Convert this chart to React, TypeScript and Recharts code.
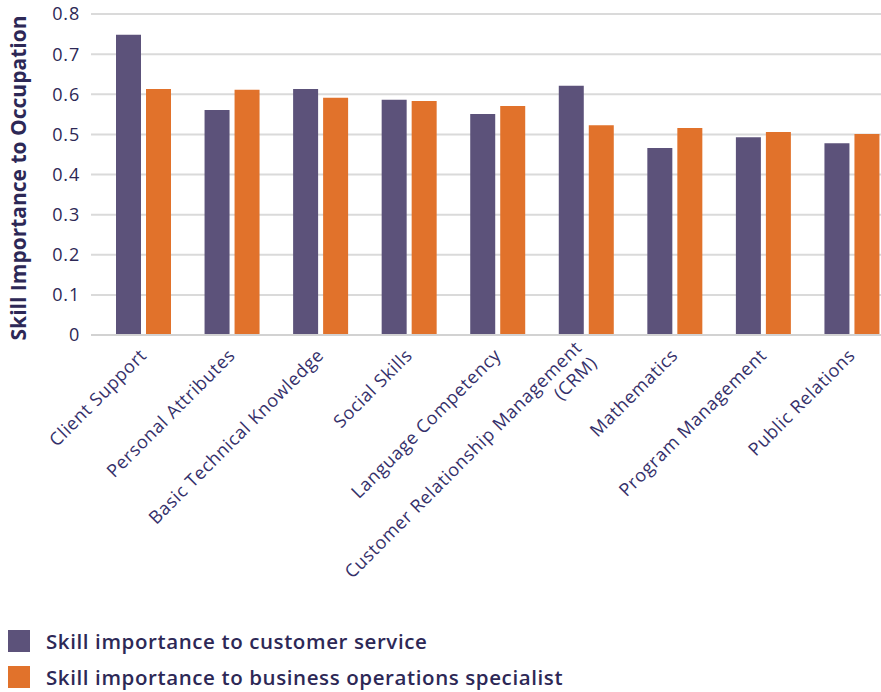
import React from "react";
import { BarChart, Bar, XAxis, YAxis, CartesianGrid, Legend } from "recharts";

const categories = [
  "Client Support",
  "Personal Attributes",
  "Basic Technical Knowledge",
  "Social Skills",
  "Language Competency",
  "Customer Relationship Management\n(CRM)",
  "Mathematics",
  "Program Management",
  "Public Relations",
];
const customerService = [0.748, 0.561, 0.613, 0.586, 0.551, 0.621, 0.466, 0.493, 0.478];
const businessOps = [0.613, 0.611, 0.591, 0.583, 0.571, 0.523, 0.516, 0.506, 0.501];
const yTicks = [0, 0.1, 0.2, 0.3, 0.4, 0.5, 0.6, 0.7, 0.8];
const seriesNames = [
  "Skill importance to customer service",
  "Skill importance to business operations specialist",
];

const PURPLE = "#5c527a";
const ORANGE = "#e1722b";
const TEXT = "#2d2856";
const FONT = "Open Sans";

const data = categories.map((c, i) => ({
  name: c,
  cs: customerService[i],
  bo: businessOps[i],
}));

const fmtY = (v: number) => (v === 0 ? "0" : v.toFixed(1));

const XTick = (props: any) => {
  const { x, y, payload } = props;
  const lines = String(payload.value).split("\n");
  const n = lines.length;
  return (
    <g transform={`translate(${x},${y})`}>
      <text
        textAnchor="end"
        transform="rotate(-45)"
        fill="#35306a"
        fontSize={18}
        letterSpacing={0.6}
        fontFamily={FONT}
      >
        {lines.map((l, i) => (
          <tspan key={i} x={0} dy={i === 0 ? `${0.35 - (n - 1) * 0.6}em` : "1.2em"}>
            {l}
          </tspan>
        ))}
      </text>
    </g>
  );
};

const YLabel = () => (
  <text
    x={18}
    y={178}
    transform="rotate(-90, 18, 178)"
    textAnchor="middle"
    dominantBaseline="central"
    fill={TEXT}
    fontSize={21}
    fontWeight={700}
    fontFamily={FONT}
  >
    Skill Importance to Occupation
  </text>
);

const LegendContent = () => (
  <div
    style={{
      fontFamily: FONT,
      fontWeight: 600,
      fontSize: 20.5,
      letterSpacing: 0.6,
      color: TEXT,
    }}
  >
    {seriesNames.map((n, i) => (
      <div key={n} style={{ display: "flex", alignItems: "center", height: 36 }}>
        <span
          style={{
            width: 22,
            height: 22,
            background: i === 0 ? PURPLE : ORANGE,
            display: "inline-block",
            marginRight: 16,
          }}
        />
        <span>{n}</span>
      </div>
    ))}
  </div>
);

export default function App() {
  return (
    <div
      style={{
        position: "absolute",
        left: 0,
        top: 0,
        width: 881,
        height: 692,
        overflow: "hidden",
        background: "#fff",
      }}
    >
      <BarChart
        width={900}
        height={692}
        data={data}
        margin={{ top: 14, right: 4, bottom: 107, left: 0 }}
        barSize={25}
        barGap={5}
      >
        <CartesianGrid vertical={false} stroke="#dadada" strokeWidth={2} />
        <XAxis
          dataKey="name"
          interval={0}
          height={250}
          tickSize={0}
          tickMargin={17}
          padding={{ left: 8, right: 0 }}
          axisLine={{ stroke: "#d2d2d2", strokeWidth: 2 }}
          tickLine={false}
          tick={<XTick />}
        />
        <YAxis
          width={91}
          domain={[0, 0.8]}
          ticks={yTicks}
          tickFormatter={fmtY}
          tickSize={0}
          tickMargin={11}
          axisLine={false}
          tickLine={false}
          tick={{ fill: TEXT, fontSize: 18, fontFamily: FONT, letterSpacing: 0.8 }}
          label={<YLabel />}
        />
        <Legend
          layout="vertical"
          align="center"
          verticalAlign="middle"
          content={<LegendContent />}
          wrapperStyle={{ left: 8, top: 623, width: 800, height: 72 }}
        />
        <Bar dataKey="cs" name={seriesNames[0]} fill={PURPLE} isAnimationActive={false} />
        <Bar dataKey="bo" name={seriesNames[1]} fill={ORANGE} isAnimationActive={false} />
      </BarChart>
    </div>
  );
}
